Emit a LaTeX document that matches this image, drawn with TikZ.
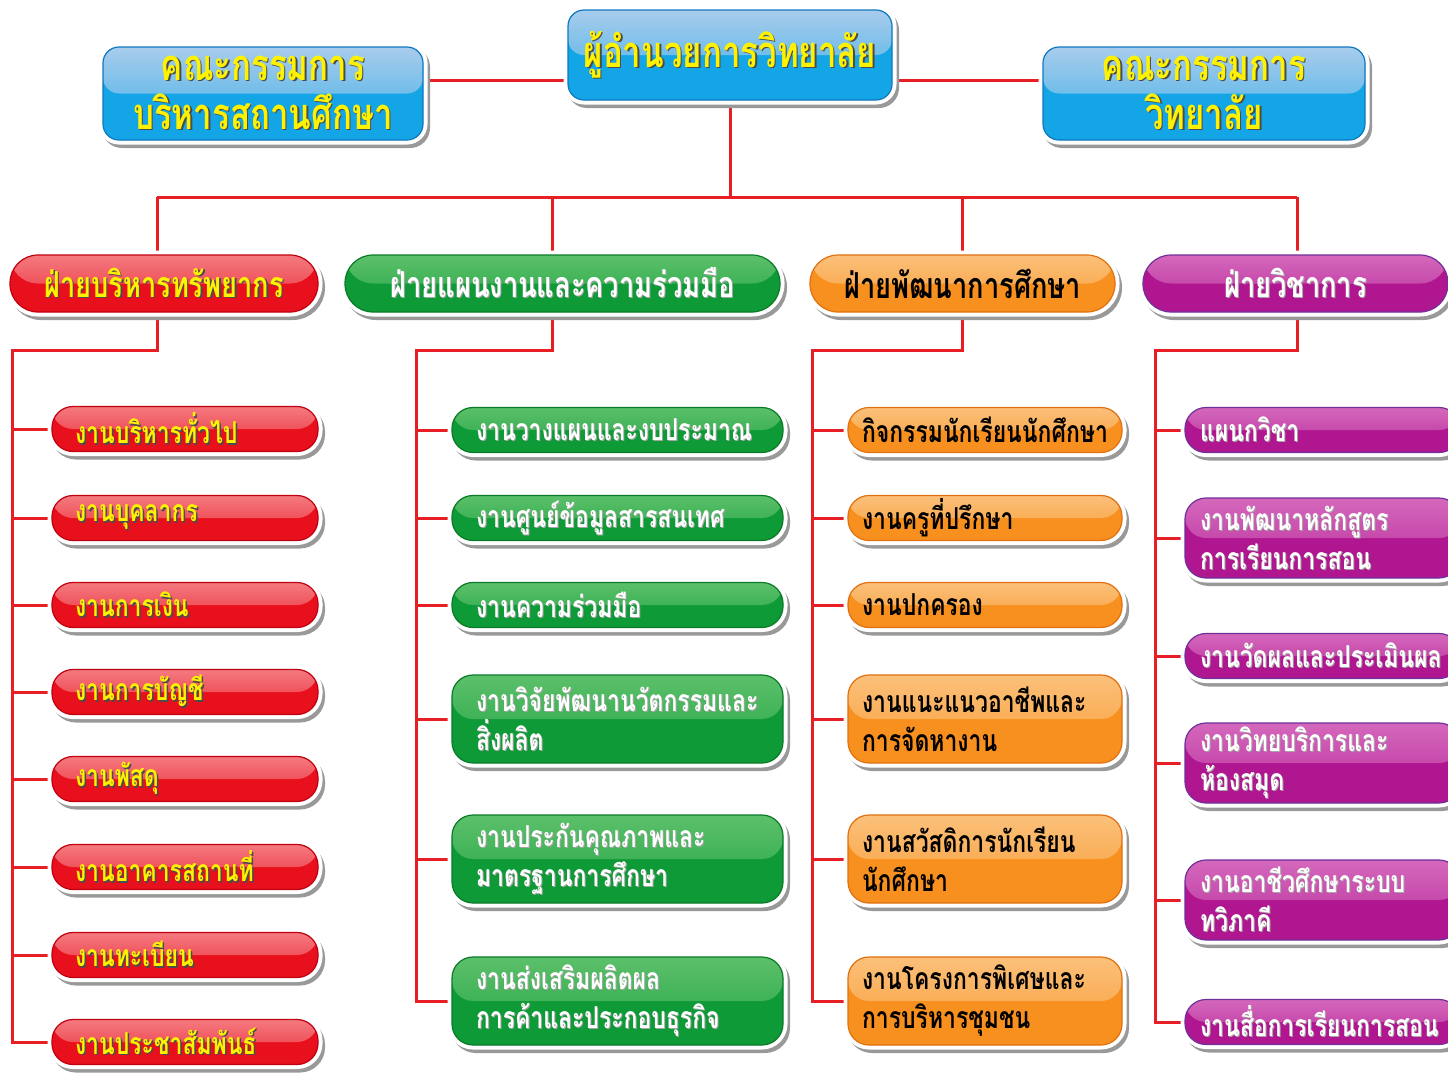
\documentclass[tikz,border=0pt]{standalone}
\usepackage{fontspec}
\newfontfamily\thai[Script=Thai,FakeStretch=0.76]{Loma}
\usetikzlibrary{backgrounds}
\definecolor{bluebase}{HTML}{14A5E6}
\definecolor{bluelight}{HTML}{A8CCEC}
\definecolor{blueedge}{HTML}{0E78C0}
\definecolor{redbase}{HTML}{E8101C}
\definecolor{redlight}{HTML}{F47A80}
\definecolor{rededge}{HTML}{C00010}
\definecolor{greenbase}{HTML}{0E9A36}
\definecolor{greenlight}{HTML}{5CC06A}
\definecolor{greenedge}{HTML}{0B7A28}
\definecolor{orangebase}{HTML}{F7901E}
\definecolor{orangelight}{HTML}{FBC07A}
\definecolor{orangeedge}{HTML}{E07010}
\definecolor{purplebase}{HTML}{B0168F}
\definecolor{purplelight}{HTML}{D468BC}
\definecolor{purpleedge}{HTML}{70309A}
\definecolor{linered}{HTML}{E81E25}
\definecolor{txtyellow}{HTML}{FFF200}
\newcommand\shd[1]{\leavevmode\rlap{\kern1.5pt\raisebox{-1.5pt}{\color{black!70}#1}}#1}
\newcommand\shw[1]{\leavevmode\rlap{\kern1pt\raisebox{-1pt}{\color{black!35}#1}}#1}
\tikzset{
  gloss/.style n args={3}{fill=#2, draw=#3, line width=1.2pt,
    path picture={\shade[top color=#1, bottom color=#2!75!#1]
      (path picture bounding box.north west) rectangle (path picture bounding box.east);},
    preaction={fill=black!40, draw=black!40, line width=8pt, transform canvas={shift={(3pt,-4pt)}}},
    preaction={draw=white, line width=9pt}},
  conn/.style={draw=linered, line width=3pt},
  topbox/.style={gloss={bluelight}{bluebase}{blueedge}, rounded corners=16pt,
    align=center, text=txtyellow, inner sep=0pt,
    font=\thai\bfseries\fontsize{43.5}{49}\selectfont},
  headbox/.style={rounded corners=28pt, minimum width=#1, minimum height=57pt,
    inner sep=0pt, font=\thai\bfseries\fontsize{35.8}{38}\selectfont},
  hred/.style={headbox=#1, gloss={redlight}{redbase}{rededge}, text=txtyellow},
  hgreen/.style={headbox=#1, gloss={greenlight}{greenbase}{greenedge}, text=white},
  horange/.style={headbox=#1, gloss={orangelight}{orangebase}{orangeedge}, text=black},
  hpurple/.style={headbox=#1, gloss={purplelight}{purplebase}{purpleedge}, text=white},
  kid/.style={rounded corners=21pt, minimum height=45pt, inner ysep=0pt, align=left,
    font=\thai\bfseries\fontsize{30.2}{39}\selectfont},
  kred/.style={kid, text width=220pt, inner xsep=23pt, gloss={redlight}{redbase}{rededge}, text=txtyellow},
  kgreen/.style={kid, text width=283pt, inner xsep=24pt, gloss={greenlight}{greenbase}{greenedge}, text=white},
  korange/.style={kid, text width=246pt, inner xsep=14pt, gloss={orangelight}{orangebase}{orangeedge}, text=black},
  kpurple/.style={kid, text width=245pt, inner xsep=15pt, gloss={purplelight}{purplebase}{purpleedge}, text=white},
  two/.style={minimum height=88pt},
  twop/.style={minimum height=80pt}
}
\begin{document}
\begin{tikzpicture}[x=1pt,y=-1pt]
\path[use as bounding box] (0,0) rectangle (1448,1072);
\clip (0,0) rectangle (1448,1072);
% top level
\node[topbox, minimum width=324pt, minimum height=90pt] (TM) at (730,55) {\shd{ผู้อำนวยการวิทยาลัย}};
\node[topbox, minimum width=320pt, minimum height=93pt] (TL) at (263,93.5) {\shd{คณะกรรมการ}\\\shd{บริหารสถานศึกษา}};
\node[topbox, minimum width=322pt, minimum height=93pt] (TR) at (1204,93.5) {\shd{คณะกรรมการ}\\\shd{วิทยาลัย}};
% division heads
\node[hred=308pt] (H1) at (164,283.5) {\shd{ฝ่ายบริหารทรัพยากร}};
\node[hgreen=435pt] (H2) at (562.5,283.5) {\shw{ฝ่ายแผนงานและความร่วมมือ}};
\node[horange=305pt] (H3) at (962.5,283.5) {ฝ่ายพัฒนาการศึกษา};
\node[hpurple=305pt] (H4) at (1295.5,283.5) {\shw{ฝ่ายวิชาการ}};
% red column
\node[kred] (R1) at (185,429) {\shd{งานบริหารทั่วไป}};
\node[kred] (R2) at (185,518) {\shd{งานบุคลากร}};
\node[kred] (R3) at (185,605) {\shd{งานการเงิน}};
\node[kred] (R4) at (185,692) {\shd{งานการบัญชี}};
\node[kred] (R5) at (185,779) {\shd{งานพัสดุ}};
\node[kred] (R6) at (185,867) {\shd{งานอาคารสถานที่}};
\node[kred] (R7) at (185,955) {\shd{งานทะเบียน}};
\node[kred] (R8) at (185,1042) {\shd{งานประชาสัมพันธ์}};
% green column
\node[kgreen] (G1) at (617.5,430) {\shw{งานวางแผนและงบประมาณ}};
\node[kgreen] (G2) at (617.5,518) {\shw{งานศูนย์ข้อมูลสารสนเทศ}};
\node[kgreen] (G3) at (617.5,605) {\shw{งานความร่วมมือ}};
\node[kgreen, two] (G4) at (617.5,719) {\shw{งานวิจัยพัฒนานวัตกรรมและ}\\\shw{สิ่งผลิต}};
\node[kgreen, two] (G5) at (617.5,859) {\shw{งานประกันคุณภาพและ}\\\shw{มาตรฐานการศึกษา}};
\node[kgreen, two] (G6) at (617.5,1001) {\shw{งานส่งเสริมผลิตผล}\\\shw{การค้าและประกอบธุรกิจ}};
% orange column
\node[korange] (O1) at (985,430) {กิจกรรมนักเรียนนักศึกษา};
\node[korange] (O2) at (985,518) {งานครูที่ปรึกษา};
\node[korange] (O3) at (985,605) {งานปกครอง};
\node[korange, two] (O4) at (985,719) {งานแนะแนวอาชีพและ\\การจัดหางาน};
\node[korange, two] (O5) at (985,859) {งานสวัสดิการนักเรียน\\นักศึกษา};
\node[korange, two] (O6) at (985,1001) {งานโครงการพิเศษและ\\การบริหารชุมชน};
% purple column
\node[kpurple] (P1) at (1322.5,430) {\shw{แผนกวิชา}};
\node[kpurple, twop] (P2) at (1322.5,538) {\shw{งานพัฒนาหลักสูตร}\\\shw{การเรียนการสอน}};
\node[kpurple] (P3) at (1322.5,656) {\shw{งานวัดผลและประเมินผล}};
\node[kpurple, twop] (P4) at (1322.5,763) {\shw{งานวิทยบริการและ}\\\shw{ห้องสมุด}};
\node[kpurple, twop] (P5) at (1322.5,900) {\shw{งานอาชีวศึกษาระบบ}\\\shw{ทวิภาคี}};
\node[kpurple] (P6) at (1322.5,1022) {\shw{งานสื่อการเรียนการสอน}};
% connectors
\begin{scope}[on background layer]
\coordinate (hy) at (0,80);
\draw[conn] (TL.east |- hy) -- (TM.west |- hy);
\draw[conn] (TM.east |- hy) -- (TR.west |- hy);
\coordinate (bus) at (0,197);
\coordinate (d1) at (157,197);
\coordinate (d2) at (552,197);
\coordinate (d3) at (962,197);
\coordinate (d4) at (1297,197);
\draw[conn] (TM.south) -- (TM.south |- bus);
\draw[conn] (d1) -- (d4);
\foreach \i in {1,...,4} {\draw[conn] (d\i) -- (d\i |- H\i.north);}
\coordinate (s1) at (12,350);
\coordinate (s2) at (416,350);
\coordinate (s3) at (812,350);
\coordinate (s4) at (1155,350);
\draw[conn] (d1 |- H1.south) -- (d1 |- s1) -- (s1) -- (s1 |- R8.west) -- (R8.west);
\foreach \k in {1,...,7} {\draw[conn] (s1 |- R\k.west) -- (R\k.west);}
\draw[conn] (d2 |- H2.south) -- (d2 |- s2) -- (s2) -- (s2 |- G6.west) -- (G6.west);
\foreach \k in {1,...,5} {\draw[conn] (s2 |- G\k.west) -- (G\k.west);}
\draw[conn] (d3 |- H3.south) -- (d3 |- s3) -- (s3) -- (s3 |- O6.west) -- (O6.west);
\foreach \k in {1,...,5} {\draw[conn] (s3 |- O\k.west) -- (O\k.west);}
\draw[conn] (d4 |- H4.south) -- (d4 |- s4) -- (s4) -- (s4 |- P6.west) -- (P6.west);
\foreach \k in {1,...,5} {\draw[conn] (s4 |- P\k.west) -- (P\k.west);}
\end{scope}
\end{tikzpicture}
\end{document}
